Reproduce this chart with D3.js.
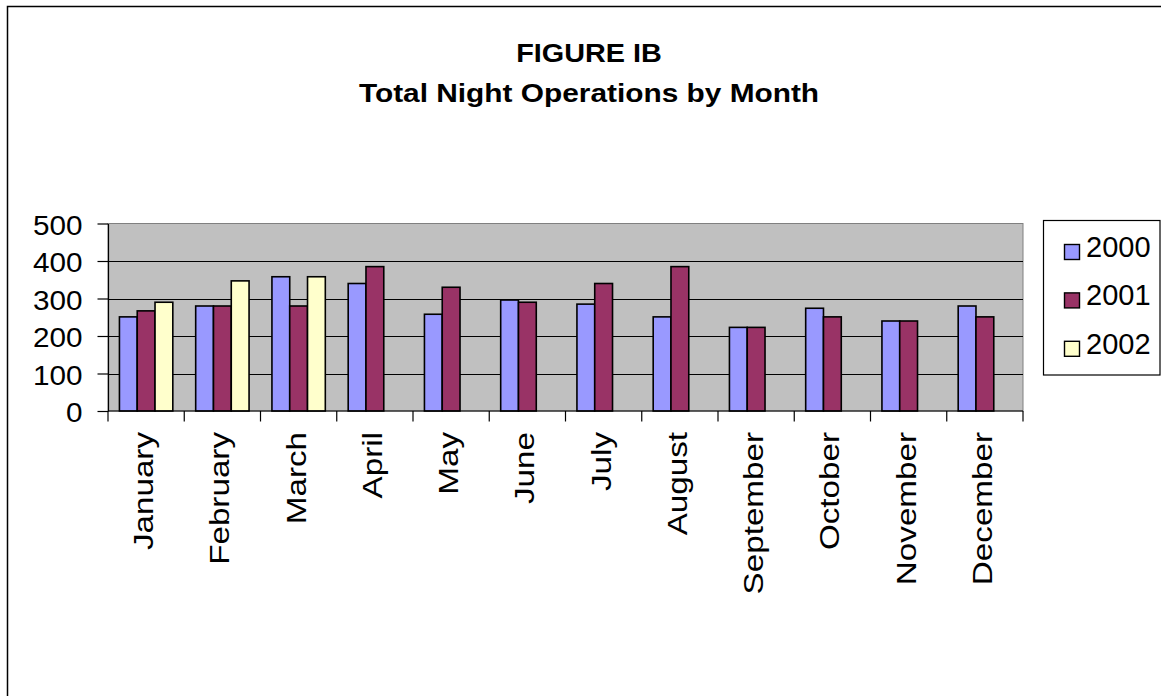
<!DOCTYPE html>
<html>
<head>
<meta charset="utf-8">
<script src="https://cdn.jsdelivr.net/npm/d3@7"></script>
<style>
  html, body { margin: 0; padding: 0; background: #ffffff; }
  svg { display: block; font-family: Arial, "Liberation Sans", sans-serif; }
</style>
</head>
<body>
<svg id="chart" width="1161" height="696"></svg>
<script>
// ---- data ----
const months = ["January","February","March","April","May","June","July","August","September","October","November","December"];
const seriesNames = ["2000","2001","2002"];
const values2000 = [251, 280, 358, 340, 258, 296, 285, 251, 223, 274, 240, 280];
const values2001 = [267, 280, 280, 385, 330, 290, 340, 385, 223, 251, 240, 251];
const values2002 = [290, 347, 358, null, null, null, null, null, null, null, null, null];
const yTickValues = [0, 100, 200, 300, 400, 500];
const titleLines = ["FIGURE IB", "Total Night Operations by Month"];
const seriesColors = ["#9999FF", "#993366", "#FFFFCC"];

const seriesValues = [values2000, values2001, values2002];

const svg = d3.select("#chart");

// outer chart border (extends beyond the right and bottom of the view)
svg.append("rect")
  .attr("x", 7.5).attr("y", 6.5)
  .attr("width", 1200).attr("height", 760)
  .attr("fill", "#ffffff").attr("stroke", "#000").attr("stroke-width", 1.5);

// title
const titleX = 589;
svg.append("text")
  .attr("transform", `translate(${titleX},61.5) scale(1.13,1)`)
  .attr("text-anchor", "middle").attr("font-weight", "bold").attr("font-size", 25.5)
  .text(titleLines[0]);
svg.append("text")
  .attr("transform", `translate(${titleX},101.5) scale(1.17,1)`)
  .attr("text-anchor", "middle").attr("font-weight", "bold").attr("font-size", 25.5)
  .text(titleLines[1]);

// plot area
const plot = { left: 108, top: 223.5, right: 1023, bottom: 411 };

const x0 = d3.scaleBand().domain(months)
  .range([plot.left, plot.right]).paddingInner(0.3).paddingOuter(0.15);
const x1 = d3.scaleBand().domain(seriesNames).range([0, x0.bandwidth()]);
const y = d3.scaleLinear().domain([0, 500]).range([plot.bottom, plot.top]);

svg.append("rect")
  .attr("x", plot.left).attr("y", plot.top)
  .attr("width", plot.right - plot.left).attr("height", plot.bottom - plot.top)
  .attr("fill", "#C0C0C0").attr("stroke", "#808080").attr("stroke-width", 1);

// gridlines
svg.append("g").selectAll("line")
  .data(yTickValues.filter(v => v > 0 && v < 500))
  .join("line")
  .attr("x1", plot.left).attr("x2", plot.right)
  .attr("y1", d => Math.round(y(d)) + 0.5).attr("y2", d => Math.round(y(d)) + 0.5)
  .attr("stroke", "#000").attr("stroke-width", 1);

// bars
const groups = svg.append("g").selectAll("g")
  .data(months)
  .join("g")
  .attr("transform", d => `translate(${x0(d)},0)`);

groups.selectAll("rect")
  .data((m, i) => seriesNames.map((s, k) => ({ s, k, v: seriesValues[k][i] })).filter(d => d.v != null))
  .join("rect")
  .attr("x", d => x1(d.s))
  .attr("y", d => y(d.v))
  .attr("width", x1.bandwidth())
  .attr("height", d => y(0) - y(d.v))
  .attr("fill", d => seriesColors[d.k])
  .attr("stroke", "#000").attr("stroke-width", 1.6);

// y axis
const yAxis = d3.axisLeft(y).tickValues(yTickValues).tickSize(10.5).tickSizeOuter(0).tickFormat(d3.format("d"));
const gy = svg.append("g").attr("transform", `translate(${plot.left},0)`).call(yAxis);
gy.select(".domain").attr("stroke", "#000").attr("stroke-width", 1.2);
gy.selectAll(".tick line").attr("stroke", "#000").attr("stroke-width", 1.2);
gy.selectAll(".tick text").remove();
gy.selectAll(".tick").append("text")
  .attr("transform", "translate(-25.5,10.5) scale(1.1,1)")
  .attr("text-anchor", "end").attr("fill", "#000").attr("font-size", 27)
  .attr("font-family", "Arial, 'Liberation Sans', sans-serif")
  .text(d => d);

// x axis (ticks at category boundaries)
const boundaries = d3.range(months.length + 1).map(i => plot.left + i * x0.step());
const gx = svg.append("g");
gx.append("line")
  .attr("x1", plot.left).attr("x2", plot.right)
  .attr("y1", plot.bottom).attr("y2", plot.bottom)
  .attr("stroke", "#000").attr("stroke-width", 1.2);
gx.selectAll("line.tk").data(boundaries).join("line").attr("class", "tk")
  .attr("x1", d => d).attr("x2", d => d)
  .attr("y1", plot.bottom).attr("y2", plot.bottom + 10.5)
  .attr("stroke", "#000").attr("stroke-width", 1.2);

gx.selectAll("text").data(months).join("text")
  .attr("transform", d => `translate(${x0(d) + x0.bandwidth() / 2 + 7},${plot.bottom + 21}) rotate(-90) scale(1.23,1)`)
  .attr("text-anchor", "end").attr("font-size", 27).attr("fill", "#000")
  .text(d => d);

// legend
const legend = svg.append("g");
legend.append("rect")
  .attr("x", 1043.5).attr("y", 220.5).attr("width", 116.5).attr("height", 154.5)
  .attr("fill", "#fff").attr("stroke", "#000").attr("stroke-width", 1.2);
const items = legend.selectAll("g.item").data(seriesNames).join("g").attr("class", "item")
  .attr("transform", (d, i) => `translate(0,${i * 48.4})`);
items.append("rect")
  .attr("x", 1064.5).attr("y", 244.5).attr("width", 15).attr("height", 15)
  .attr("fill", (d, i) => seriesColors[i]).attr("stroke", "#000").attr("stroke-width", 1.4);
items.append("text")
  .attr("x", 1086).attr("y", 257).attr("font-size", 29).attr("fill", "#000")
  .text(d => d);
</script>
</body>
</html>
